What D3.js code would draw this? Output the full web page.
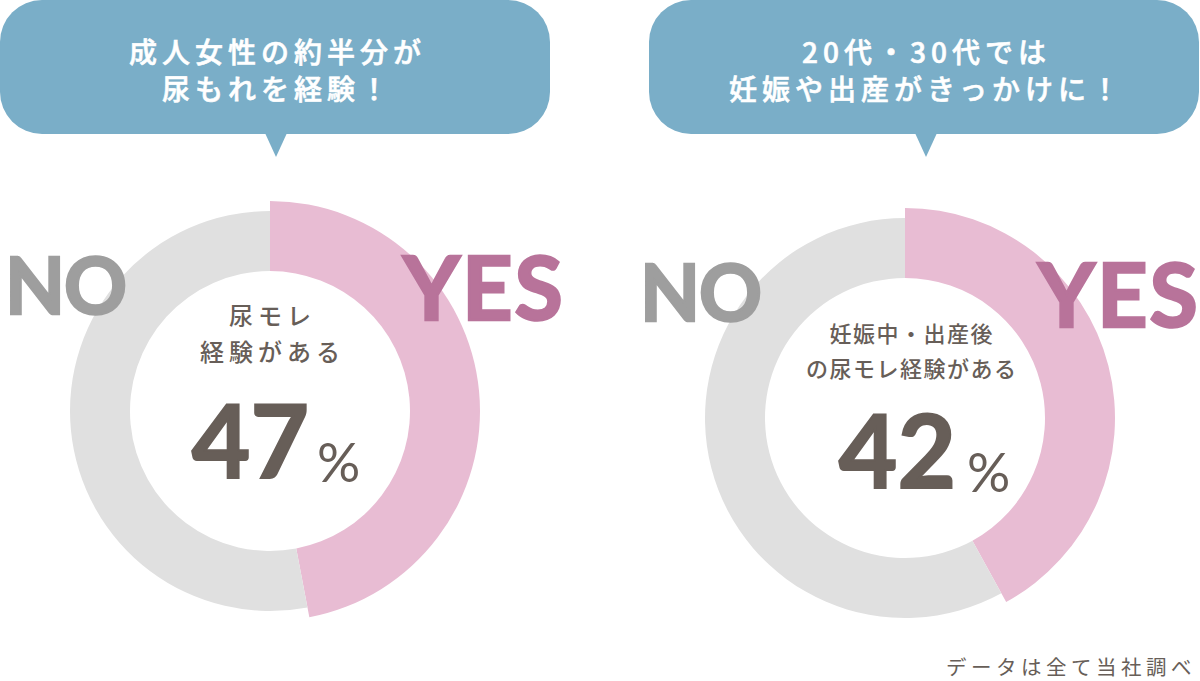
<!DOCTYPE html>
<html>
<head>
<meta charset="utf-8">
<script src="https://cdn.jsdelivr.net/npm/d3@7"></script>
<style>
  html, body { margin: 0; padding: 0; background: #fff; }
  svg { display: block; }
</style>
</head>
<body>
<svg id="chart"></svg>
<script>
// values
var yesShare = [47, 42]
var answerLabels = ['YES', 'NO']
var bubbleLines = [
	['成人女性の約半分が', '尿もれを経験！'],
	['20代・30代では', '妊娠や出産がきっかけに！']
]
var centerLines = [
	['尿モレ', '経験がある'],
	['妊娠中・出産後', 'の尿モレ経験がある']
]
var sourceNote = 'データは全て当社調べ'

var dim = { width: 1200, height: 681 }

var color = {
	bubble: '#7aaec8',
	yesRing: '#e8bcd3',
	noRing: '#e0e0e0',
	yesText: '#b8739a',
	noText: '#9e9e9e',
	ink: '#675e58'
}

// layout per donut
var layout = [
	{ cx: 270, cy: 411, bx: 0, tail: 276, lineY: [-97, -61], lineSize: 24, lineSpacing: 5, numEnd: 39, numBase: 67, pctBase: 71, pctGap: 8 },
	{ cx: 905, cy: 418, bx: 649, tail: 926, lineY: [-86, -51], lineSize: 22, lineSpacing: 1.5, numEnd: 51, numBase: 70, pctBase: 74, pctGap: 11 }
]

var jp = '"Noto Sans CJK JP", "Noto Sans", sans-serif'
var latin = 'Lato, "Open Sans", sans-serif'

var svg = d3.select('#chart')
	.attr('width', dim.width)
	.attr('height', dim.height)

var pie = d3.pie().sort(null).value(d => d.value)
var arcYes = d3.arc().innerRadius(140).outerRadius(210)
var arcNo = d3.arc().innerRadius(140).outerRadius(200)

yesShare.forEach((share, i) => {
	var L = layout[i]

	// speech bubble
	var b = svg.append('g')
	b.append('rect')
		.attr('x', L.bx).attr('y', 0)
		.attr('width', 550).attr('height', 134)
		.attr('rx', 42).attr('ry', 42)
		.attr('fill', color.bubble)
	b.append('path')
		.attr('d', 'M' + (L.tail - 11) + ',133 L' + (L.tail + 11) + ',133 L' + L.tail + ',157 Z')
		.attr('fill', color.bubble)
	b.selectAll('text.bubble')
		.data(bubbleLines[i])
		.enter()
		.append('text')
			.attr('class', 'bubble')
			.attr('x', L.bx + 275 + 2.5)
			.attr('y', (d, j) => 51 + j * 37)
			.attr('text-anchor', 'middle')
			.attr('dominant-baseline', 'central')
			.attr('font-family', jp)
			.attr('font-weight', 500)
			.attr('font-size', 28)
			.attr('letter-spacing', 5)
			.attr('fill', '#fff')
			.attr('stroke', '#fff')
			.attr('stroke-width', 0.6)
			.text(d => d)

	// donut
	var g = svg.append('g')
		.attr('transform', 'translate(' + L.cx + ',' + L.cy + ')')
	var slices = pie([
		{ key: answerLabels[0], value: share },
		{ key: answerLabels[1], value: 100 - share }
	])
	g.selectAll('path')
		.data(slices)
		.enter()
		.append('path')
			.attr('d', d => d.data.key == 'YES' ? arcYes(d) : arcNo(d))
			.attr('fill', d => d.data.key == 'YES' ? color.yesRing : color.noRing)

	// YES / NO labels
	g.append('text')
		.attr('x', -265).attr('y', -97)
		.attr('font-family', latin).attr('font-weight', 700)
		.attr('font-size', 78)
		.attr('letter-spacing', -1)
		.attr('fill', color.noText)
		.attr('stroke', color.noText).attr('stroke-width', 2.5)
		.text(answerLabels[1])
	g.append('text')
		.attr('x', 133).attr('y', -91)
		.attr('font-family', latin).attr('font-weight', 700)
		.attr('font-size', 88)
		.attr('letter-spacing', 2)
		.attr('fill', color.yesText)
		.attr('stroke', color.yesText).attr('stroke-width', 2.5)
		.text(answerLabels[0])

	// centre caption
	g.selectAll('text.caption')
		.data(centerLines[i])
		.enter()
		.append('text')
			.attr('class', 'caption')
			.attr('x', L.lineSpacing / 2 + (i == 0 ? 0 : 6))
			.attr('y', (d, j) => L.lineY[j])
			.attr('text-anchor', 'middle')
			.attr('dominant-baseline', 'central')
			.attr('font-family', jp)
			.attr('font-weight', 500)
			.attr('font-size', L.lineSize)
			.attr('letter-spacing', L.lineSpacing)
			.attr('fill', color.ink)
			.text(d => d)

	// big percentage
	g.append('text')
		.attr('x', L.numEnd).attr('y', L.numBase)
		.attr('text-anchor', 'end')
		.attr('font-family', latin).attr('font-weight', 700)
		.attr('font-size', 101)
		.attr('fill', color.ink)
		.attr('stroke', color.ink).attr('stroke-width', 2)
		.text(share)
	g.append('text')
		.attr('x', L.numEnd + L.pctGap).attr('y', L.pctBase)
		.attr('font-family', latin).attr('font-weight', 400)
		.attr('font-size', 54)
		.attr('fill', color.ink)
		.text('%')
})

svg.append('text')
	.attr('x', 1196).attr('y', 666)
	.attr('text-anchor', 'end')
	.attr('dominant-baseline', 'central')
	.attr('font-family', jp)
	.attr('font-size', 20.5)
	.attr('letter-spacing', 4.5)
	.attr('fill', color.ink)
	.text(sourceNote)
</script>
</body>
</html>
